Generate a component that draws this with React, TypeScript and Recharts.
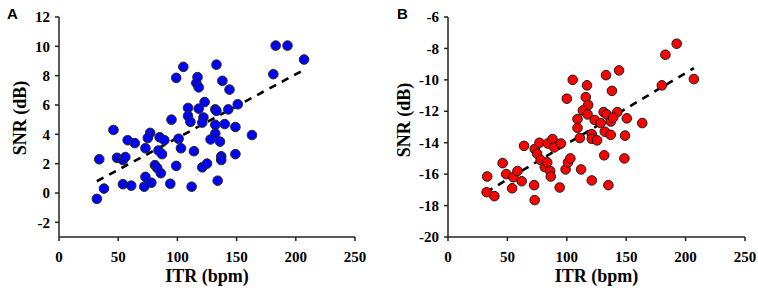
import React from 'react';
import { ScatterChart, Scatter, XAxis, YAxis, ReferenceLine } from 'recharts';

// Panel A: ITR (bpm) vs SNR (dB)
const itrA = [105, 99, 117, 116, 118, 123, 109, 118, 109, 111, 95, 46, 77, 75, 85, 89, 58, 64, 101, 73,
  84, 87, 103, 114, 34, 49, 54, 56, 81, 83, 86, 99, 121, 73, 78, 72, 54, 61, 38, 94, 112, 32,
  122, 121, 133, 138, 144, 132, 133, 143, 151, 132, 140, 149, 132, 128, 136, 163,
  125, 137, 137, 149, 134, 183, 193, 207, 181];
const snrA = [8.6, 7.85, 7.9, 7.5, 7.2, 6.2, 5.8, 5.75, 5.25, 4.85, 5.0, 4.3, 4.1, 3.75, 3.8, 3.6, 3.6, 3.4, 3.7, 3.05,
  2.9, 2.65, 3.05, 2.85, 2.3, 2.4, 2.25, 2.45, 1.9, 1.7, 1.35, 1.85, 1.75, 1.1, 0.7, 0.43, 0.6, 0.5, 0.3, 0.63, 0.43, -0.4,
  5.15, 4.8, 8.75, 7.65, 7.05, 5.7, 5.6, 5.7, 6.05, 4.65, 4.7, 4.5, 4.05, 3.65, 3.5, 3.95,
  2.0, 2.5, 2.25, 2.65, 0.84, 10.05, 10.05, 9.1, 8.1];

// Panel B
const itrB = [105, 100, 109, 109, 111, 64, 73, 77, 84, 88, 89.5, 95, 33, 46, 49, 55, 58.5, 54, 62, 32.5,
  39, 72.5, 73, 75, 78, 81.5, 83.5, 86, 86.5, 94, 99, 101, 103, 112, 121, 135, 131.5, 148.5,
  116, 117, 133, 144, 138, 118, 113.5, 117.5, 131, 133.5, 142.5, 123.5, 128.5, 137, 139, 150.5, 163.5,
  132, 137, 149, 121, 121, 125.5, 180, 183, 192.5, 207];
const snrB = [-10.0, -11.2, -12.5, -13.05, -13.7, -14.2, -14.4, -14.0, -14.05, -13.77, -14.3, -14.05, -16.15, -15.3, -16.0, -16.2, -15.8, -16.9, -16.45, -17.15,
  -17.4, -16.7, -17.65, -14.7, -15.1, -15.55, -15.25, -15.8, -16.15, -16.85, -15.7, -15.25, -15.0, -15.7, -16.4, -16.7, -14.8, -15.0,
  -11.1, -10.35, -9.7, -9.4, -10.7, -11.6, -11.95, -12.2, -12.05, -12.2, -12.05, -12.55, -12.75, -12.65, -12.4, -12.45, -12.75,
  -13.3, -13.5, -13.55, -13.45, -13.75, -13.85, -10.35, -8.4, -7.7, -9.95];

const fitA = [{ x: 32, y: 0.8 }, { x: 207, y: 8.4 }];
const fitB = [{ x: 32, y: -17.15 }, { x: 207, y: -9.25 }];

const xTicks = [0, 50, 100, 150, 200, 250];
const yTicksA = [-2, 0, 2, 4, 6, 8, 10, 12];
const yTicksB = [-20, -18, -16, -14, -12, -10, -8, -6];

const dataA = itrA.map((x, i) => ({ x, y: snrA[i] }));
const dataB = itrB.map((x, i) => ({ x, y: snrB[i] }));

const SERIF = '"Liberation Serif", "Times New Roman", serif';
const SANS = '"Liberation Sans", Arial, sans-serif';
const tickFont = { fontFamily: SERIF, fontWeight: 700, fontSize: 15 };
const axisLine = { stroke: '#222', strokeWidth: 1.5 };

const XTick = (p: any) => (
  <text x={p.x} y={p.y + 10.6} textAnchor="middle" fill="#000" style={tickFont}>{p.payload.value}</text>
);
const YTick = (p: any) => (
  <text x={p.x} y={p.y + 5.2} textAnchor="end" fill="#000" style={tickFont}>{p.payload.value}</text>
);

const dot = (fill: string, stroke: string) => (p: any) => (
  <circle cx={p.cx} cy={p.cy} r={4.8} fill={fill} stroke={stroke} strokeWidth={1} />
);

function Panel(props: {
  data: { x: number; y: number }[]; fit: { x: number; y: number }[]; yTicks: number[];
  yDomain: [number, number]; yWidth: number; right: number; fill: string; stroke: string;
  letter: string; letterX: number; titleX: number; titleY: number;
}) {
  const { data, fit, yTicks, yDomain, yWidth, right, fill, stroke, letter, letterX, titleX, titleY } = props;
  return (
    <ScatterChart width={379} height={288} margin={{ top: 17, right, bottom: 0, left: 0 }}>
      <XAxis type="number" dataKey="x" domain={[0, 250]} ticks={xTicks} height={51}
        tick={XTick} axisLine={axisLine} tickLine={axisLine} tickSize={4} tickMargin={10}
        allowDataOverflow
        label={(lp: any) => {
          const vb = lp.viewBox;
          return (
            <text x={vb.x + vb.width / 2} y={282} textAnchor="middle"
              style={{ fontFamily: SERIF, fontWeight: 700, fontSize: 18, fill: '#000' }}>ITR (bpm)</text>
          );
        }} />
      <YAxis type="number" dataKey="y" domain={yDomain} ticks={yTicks} width={yWidth}
        tick={YTick} axisLine={axisLine} tickLine={axisLine} tickSize={4} tickMargin={5}
        allowDataOverflow interval={0}
        label={() => (
          <g>
            <text x={titleX} y={titleY} textAnchor="middle" transform={`rotate(-90, ${titleX}, ${titleY})`}
              style={{ fontFamily: SERIF, fontWeight: 700, fontSize: 18, fill: '#000' }}>SNR (dB)</text>
            <text x={letterX} y={19} style={{ fontFamily: SANS, fontWeight: 700, fontSize: 15, fill: '#000' }}>{letter}</text>
          </g>
        )} />
      <ReferenceLine segment={fit} stroke="#000" strokeWidth={2.6} strokeDasharray="7.5 6.5" />
      <Scatter data={data} isAnimationActive={false} shape={dot(fill, stroke)} />
    </ScatterChart>
  );
}

export default function App() {
  return (
    <div style={{ position: 'absolute', left: 0, top: 0, width: 758, height: 288, background: '#fff', display: 'flex' }}>
      <Panel data={dataA} fit={fitA} yTicks={yTicksA} yDomain={[-3, 12]} yWidth={59} right={24}
        fill="#0000FF" stroke="#2a2a14" letter="A" letterX={7} titleX={26} titleY={118} />
      <Panel data={dataB} fit={fitB} yTicks={yTicksB} yDomain={[-20, -6]} yWidth={69} right={13}
        fill="#FF0000" stroke="#102020" letter="B" letterX={18} titleX={31} titleY={120} />
    </div>
  );
}
